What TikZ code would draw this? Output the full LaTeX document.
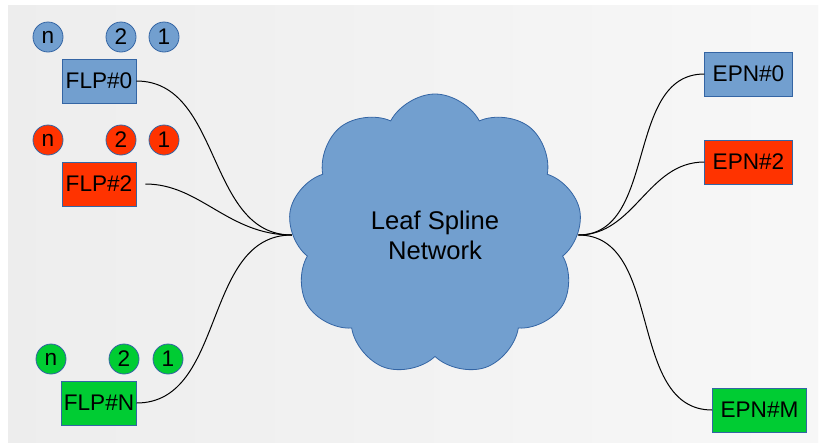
\documentclass[tikz,border=0pt]{standalone}
\usepackage{fontspec}
\setmainfont{Liberation Sans}
\usetikzlibrary{shapes.symbols,positioning}
\definecolor{lblue}{HTML}{729FCF}
\definecolor{lborder}{HTML}{3465A4}
\definecolor{lred}{HTML}{FF3300}
\definecolor{lgreen}{HTML}{00CC33}

\begin{document}
\begin{tikzpicture}[
    x=0.5pt, y=-0.5pt,
    every node/.style={font=\fontsize{11.3}{13.5}\selectfont},
    flp/.style={rectangle, draw=lborder, minimum width=37pt, minimum height=22pt, inner sep=1pt},
    epn/.style={rectangle, draw=lborder, minimum height=22pt, inner xsep=4pt, inner ysep=1pt},
    buf/.style={circle, draw=lborder, minimum size=15pt, inner sep=0pt},
    link/.style={black, line width=0.5pt, out=0, in=180}
]

% Slide background
\useasboundingbox (0,0) rectangle (822,445);
\fill[white] (0,0) rectangle (822,445);
\shade[left color=gray!14, right color=gray!6] (8,5) rectangle (818,442);

% Network cloud
\node[cloud, cloud puffs=9, cloud puff arc=125, aspect=1, fill=lblue, draw=lborder,
      minimum width=147pt, minimum height=141pt, align=center,
      font=\fontsize{12.8}{15}\selectfont] (net) at (435,235)
      {Leaf Spline\\Network};

% FLP nodes
\node[flp, fill=lblue] (flp0) at (99,81) {FLP\#0};
\node[flp, fill=lred] (flp2) at (99,184) {FLP\#2};
\node[flp, fill=lgreen] (flpN) at (99,403) {FLP\#N};

% Buffers above each FLP
\node[buf, fill=lblue] (b0n) at (48,37) {n};
\node[buf, fill=lblue] (b02) at (121,37) {2};
\node[buf, fill=lblue] (b01) at (164,37) {1};

\node[buf, fill=lred] (b2n) at (48,140) {n};
\node[buf, fill=lred] (b22) at (121,140) {2};
\node[buf, fill=lred] (b21) at (164,140) {1};

\node[buf, fill=lgreen] (bNn) at (51,359) {n};
\node[buf, fill=lgreen] (bN2) at (124,359) {2};
\node[buf, fill=lgreen] (bN1) at (168,359) {1};

% EPN nodes
\node[epn, fill=lblue] (epn0) at (748.5,74) {EPN\#0};
\node[epn, fill=lred] (epn2) at (748.5,162) {EPN\#2};
\node[epn, fill=lgreen] (epnM) at (759.5,410) {EPN\#M};

% Links
\draw[link] (flp0.east) to (net.west);
\draw[link, shorten <=4.5pt] (flp2.east) to (net.west);
\draw[link] (flpN.east) to (net.west);
\draw[link] (net.east) to (epn0.west);
\draw[link] (net.east) to (epn2.west);
\draw[link] (net.east) to (epnM.west);

\end{tikzpicture}
\end{document}
